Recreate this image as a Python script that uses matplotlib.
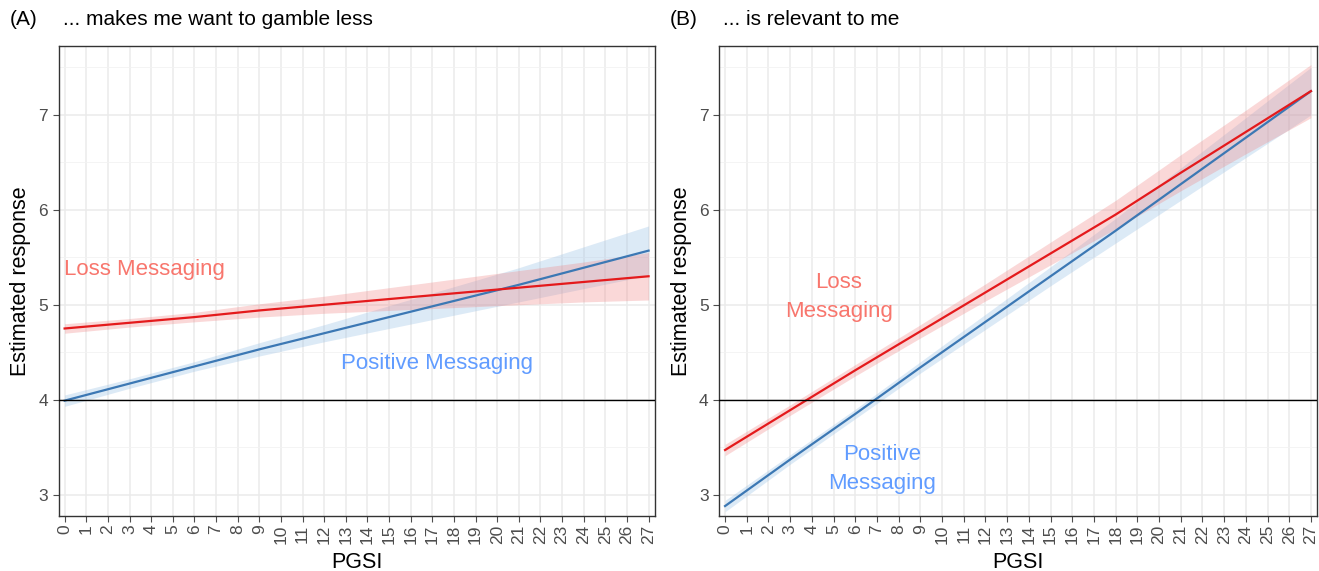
import numpy as np
import matplotlib
matplotlib.use('Agg')
import matplotlib.pyplot as plt

plt.rcParams['font.family'] = ['Liberation Sans', 'DejaVu Sans']

pgsi = [0, 3, 6, 9, 12, 15, 18, 21, 24, 27]

# panel A: "... makes me want to gamble less"
loss_a = [4.75, 4.81, 4.87, 4.94, 5.00, 5.06, 5.12, 5.18, 5.24, 5.30]
loss_a_half = [0.05, 0.045, 0.05, 0.07, 0.09, 0.12, 0.15, 0.18, 0.21, 0.25]
pos_a = [3.99, 4.17, 4.35, 4.53, 4.70, 4.87, 5.04, 5.21, 5.39, 5.57]
pos_a_half = [0.06, 0.05, 0.05, 0.07, 0.09, 0.12, 0.15, 0.18, 0.22, 0.26]

# panel B: "... is relevant to me"
loss_b = [3.47, 3.89, 4.31, 4.72, 5.13, 5.54, 5.95, 6.39, 6.82, 7.25]
loss_b_half = [0.06, 0.055, 0.06, 0.07, 0.09, 0.12, 0.15, 0.19, 0.23, 0.28]
pos_b = [2.88, 3.37, 3.85, 4.34, 4.82, 5.30, 5.78, 6.27, 6.76, 7.25]
pos_b_half = [0.06, 0.05, 0.05, 0.06, 0.08, 0.10, 0.13, 0.17, 0.21, 0.25]

panels = [
    dict(tag='(A)', title='... makes me want to gamble less',
         loss=loss_a, loss_h=loss_a_half, pos=pos_a, pos_h=pos_a_half,
         loss_lab=('Loss Messaging', 3.7, 5.37),
         pos_lab=('Positive Messaging', 17.2, 4.38)),
    dict(tag='(B)', title='... is relevant to me',
         loss=loss_b, loss_h=loss_b_half, pos=pos_b, pos_h=pos_b_half,
         loss_lab=('Loss\nMessaging', 5.25, 5.08),
         pos_lab=('Positive\nMessaging', 7.25, 3.27)),
]

RED = '#E41A1C'
BLUE = '#3C78B4'
RED_TXT = '#F8766D'
BLUE_TXT = '#619CFF'

fig = plt.figure(figsize=(13.19, 5.71), dpi=100)
rects = [[0.0444, 0.0963, 0.4519, 0.8231], [0.5451, 0.0963, 0.4534, 0.8231]]

x = np.array(pgsi)
for p, r in zip(panels, rects):
    ax = fig.add_axes(r)
    lo = np.array(p['loss'])
    lh = np.array(p['loss_h'])
    po = np.array(p['pos'])
    ph = np.array(p['pos_h'])

    ax.fill_between(x, po - ph, po + ph, color='#9DC3E6', alpha=0.35, lw=0, zorder=2)
    ax.fill_between(x, lo - lh, lo + lh, color='#F08080', alpha=0.3, lw=0, zorder=2)
    ax.plot(x, po, color=BLUE, lw=1.6, zorder=3)
    ax.plot(x, lo, color=RED, lw=1.6, zorder=3)
    ax.axhline(4, color='black', lw=1.0, zorder=4)

    t, tx, ty = p['loss_lab']
    ax.text(tx, ty, t, color=RED_TXT, fontsize=16, ha='center', va='center',
            linespacing=1.5, zorder=5)
    t, tx, ty = p['pos_lab']
    ax.text(tx, ty, t, color=BLUE_TXT, fontsize=16, ha='center', va='center',
            linespacing=1.5, zorder=5)

    ax.set_xlim(-0.28, 27.28)
    ax.set_ylim(2.775, 7.725)
    ax.set_xticks(range(0, 28))
    ax.set_xticklabels([str(i) for i in range(0, 28)], rotation=90)
    ax.set_yticks([3, 4, 5, 6, 7])
    ax.set_yticks([3.5, 4.5, 5.5, 6.5, 7.5], minor=True)
    ax.grid(True, which='major', color='#EBEBEB', lw=1.1, zorder=0)
    ax.grid(True, which='minor', axis='y', color='#F2F2F2', lw=0.6, zorder=0)
    ax.set_axisbelow(True)
    ax.tick_params(axis='both', which='major', labelsize=12.5, colors='#4D4D4D',
                   length=4, width=0.8, labelcolor='#4D4D4D')
    ax.tick_params(axis='x', which='major', pad=2)
    ax.tick_params(axis='y', which='minor', length=0)
    for s in ax.spines.values():
        s.set_color('#333333')
        s.set_linewidth(1.0)
    ax.set_xlabel('PGSI', fontsize=15.5, labelpad=6)
    ax.set_ylabel('Estimated response', fontsize=15.5, labelpad=5)

    fig.text(r[0] - 0.037, 0.965, p['tag'], fontsize=15, va='center', ha='left')
    fig.text(r[0] + 0.003, 0.965, p['title'], fontsize=15, va='center', ha='left')

fig.savefig('out.png', dpi=100)
